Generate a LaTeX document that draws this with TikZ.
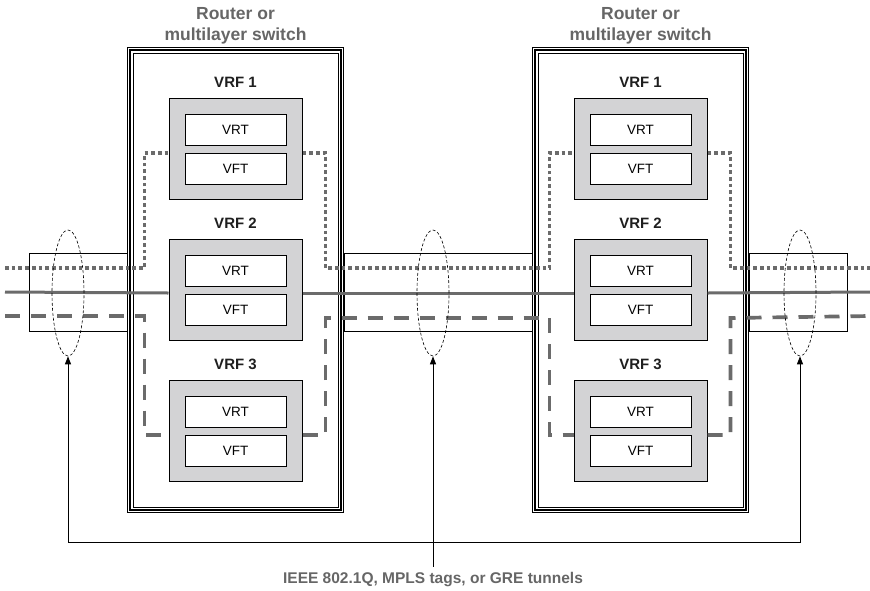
\documentclass[tikz,border=0pt]{standalone}
\usepackage{fontspec}
\setmainfont{Liberation Sans}
\usepackage{xcolor}
\usetikzlibrary{positioning, arrows.meta, shapes.geometric, calc}
\definecolor{linegray}{HTML}{6B6B6B}
\definecolor{boxgray}{HTML}{D3D3D5}
\definecolor{textgray}{HTML}{666666}

\begin{document}
\begin{tikzpicture}[x=1pt, y=-1pt, >={Triangle[length=8pt, width=6pt]},
  router/.style={draw, fill=white, line width=1.2pt, minimum width=216pt, minimum height=465pt, inner sep=0pt},
  title/.style={font=\fontsize{17.5}{21}\selectfont\bfseries, text=textgray, align=center, inner sep=0pt},
  vrf/.style={draw, fill=boxgray, line width=1pt, minimum width=133pt, minimum height=101pt, inner sep=0pt},
  tbl/.style={draw, fill=white, line width=0.9pt, minimum width=101pt, minimum height=31pt, inner sep=0pt,
    font=\fontsize{13.5}{16}\selectfont},
  vrflabel/.style={font=\fontsize{15}{18}\selectfont\bfseries, text=black!88, inner sep=0pt},
  linkbox/.style={draw, line width=0.8pt, minimum height=78pt, inner sep=0pt},
  tunnel/.style={draw, ellipse, dash pattern=on 3pt off 2pt, line width=0.6pt, minimum width=32pt,
    minimum height=126pt, inner sep=0pt},
  dotline/.style={linegray, line width=3.7pt, dash pattern=on 3.7pt off 3pt},
  dashline/.style={linegray, line width=3.7pt, dash pattern=on 15pt off 11pt},
  solidline/.style={linegray, line width=3pt},
  note/.style={font=\fontsize{15.5}{18}\selectfont\bfseries, text=textgray, inner sep=0pt}]

\useasboundingbox (0,0) rectangle (870,590);

% trunks between the routers
\node[linkbox, minimum width=98pt]  (k1) at (78,292)  {};
\node[linkbox, minimum width=188pt] (k2) at (438,292) {};
\node[linkbox, minimum width=98pt]  (k3) at (798,292) {};

% the two routers with their triple frame
\node[router] (r1) at (235.5,280) {};
\node[router] (r2) at (640.5,280) {};
\foreach \r in {r1, r2} {
  \draw[line width=1.6pt] ($(\r.north west)+(3,3)$) rectangle ($(\r.south east)+(-3,-3)$);
  \draw[line width=0.8pt] ($(\r.north west)+(6,6)$) rectangle ($(\r.south east)+(-6,-6)$);
}
\node[title, above=3pt of r1] (t1) {Router or\\multilayer switch};
\node[title, above=3pt of r2] (t2) {Router or\\multilayer switch};

% VRF instances
\node[vrf] (a1) at (235.5,148.5) {};
\node[vrf, below=39pt of a1] (a2) {};
\node[vrf, below=39pt of a2] (a3) {};
\node[vrf] (b1) at (640.5,148.5) {};
\node[vrf, below=39pt of b1] (b2) {};
\node[vrf, below=39pt of b2] (b3) {};
\foreach \b/\n in {a1/1, a2/2, a3/3, b1/1, b2/2, b3/3} {
  \node[tbl] (\b-rt) at ([yshift=19pt]\b.center) {VRT};
  \node[tbl] (\b-ft) at ([yshift=-20pt]\b.center) {VFT};
  \node[vrflabel] (\b-lab) at ([yshift=15pt]\b.north) {VRF \n};
}

% paths of the three VRFs
\coordinate (dotL) at (5,268);   \coordinate (dotR) at (870,268);
\coordinate (solL) at (5,292);   \coordinate (solR) at (870,292);
\coordinate (dshL) at (5,316);   \coordinate (dshR) at (870,316);

\draw[dotline] (dotL) -| ($(a1.west)+(-24,4.5)$) -- ($(a1.west)+(0,4.5)$);
\draw[dotline] ($(a1.east)+(0,4.5)$) -| ($(a1.east)+(23,119.5)$) -| ($(b1.west)+(-24,4.5)$) -- ($(b1.west)+(0,4.5)$);
\draw[dotline] ($(b1.east)+(0,4.5)$) -| ($(b1.east)+(23,119.5)$) -- (dotR);

\draw[solidline] (solL) -- ($(a2.west)+(0,3.5)$);
\draw[solidline] ($(a2.east)+(0,3.5)$) -- ($(b2.west)+(0,3.5)$);
\draw[solidline] ($(b2.east)+(0,3.5)$) -- (solR);

\draw[dashline] (dshL) -| ($(a3.west)+(-24,4.5)$) -- ($(a3.west)+(0,4.5)$);
\draw[dashline] ($(a3.east)+(0,4.5)$) -| ($(a3.east)+(23,-112.5)$) -| ($(b3.west)+(-24,4.5)$) -- ($(b3.west)+(0,4.5)$);
\draw[dashline] ($(b3.east)+(0,4.5)$) -| ($(b3.east)+(23,-112.5)$) -- (dshR);

% tagging on the trunks
\node[tunnel] (e1) at (68,293)  {};
\node[tunnel] (e2) at (433,293) {};
\node[tunnel] (e3) at (800,293) {};

\coordinate (bus) at (0,542);
\draw[<->, line width=0.9pt] (e1.south) -- (e1.south |- bus) -- (e3.south |- bus) -- (e3.south);
\node[note] (tag) at (433,580) {IEEE 802.1Q, MPLS tags, or GRE tunnels};
\draw[->, line width=0.9pt] ([yshift=6pt]tag.north) -- (e2.south);
\end{tikzpicture}
\end{document}
